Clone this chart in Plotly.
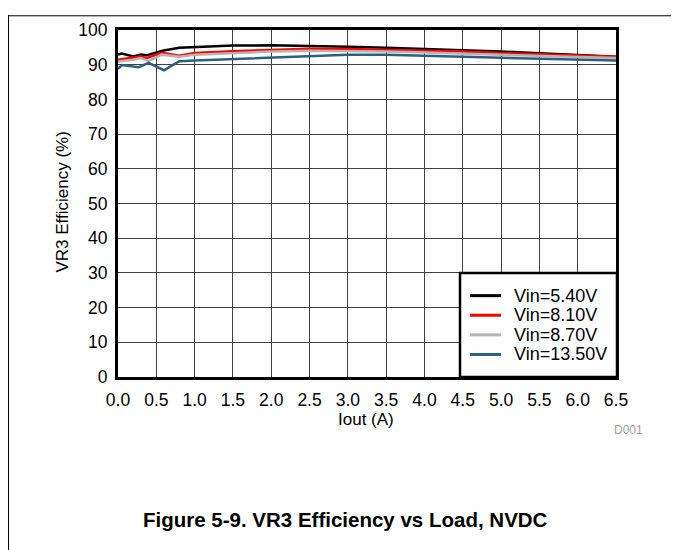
import plotly.graph_objects as go

# Data
x_540 = [0, 0.05, 0.2, 0.3, 0.37, 0.58, 0.8, 1.0, 1.5, 2.0, 2.5, 3.0, 3.5, 4.0, 4.5, 5.0, 5.5, 6.0, 6.5]
y_540 = [92.9, 93.2, 92.4, 92.9, 92.7, 94.0, 94.9, 95.1, 95.5, 95.6, 95.5, 95.2, 94.9, 94.6, 94.2, 93.8, 93.3, 92.8, 92.3]

x_810 = [0, 0.2, 0.3, 0.37, 0.57, 0.8, 1.0, 1.5, 2.0, 2.5, 3.0, 3.5, 4.0, 4.5, 5.0, 5.5, 6.0, 6.5]
y_810 = [91.4, 92.1, 92.4, 91.9, 93.4, 92.6, 93.4, 93.9, 94.3, 94.6, 94.5, 94.3, 94.1, 93.8, 93.4, 93.1, 92.7, 92.3]

x_870 = [0, 0.2, 0.3, 0.4, 0.57, 0.8, 1.0, 1.5, 2.0, 2.5, 3.0, 3.5, 4.0, 4.5, 5.0, 5.5, 6.0, 6.5]
y_870 = [90.9, 91.4, 91.9, 91.0, 92.9, 92.3, 92.9, 93.4, 93.8, 94.0, 94.0, 93.8, 93.5, 93.2, 92.9, 92.6, 92.2, 91.9]

x_1350 = [0, 0.05, 0.27, 0.4, 0.6, 0.8, 1.0, 1.5, 2.0, 2.5, 3.0, 3.5, 4.0, 4.5, 5.0, 5.5, 6.0, 6.5]
y_1350 = [88.8, 89.9, 89.3, 90.5, 88.4, 91.0, 91.2, 91.6, 92.1, 92.6, 92.9, 92.9, 92.7, 92.3, 92.0, 91.7, 91.4, 91.2]

series_names = ["Vin=5.40V", "Vin=8.10V", "Vin=8.70V", "Vin=13.50V"]
series_colors = ["#000000", "#FF0000", "#B4B4B4", "#2B6080"]

x_ticks = [0.0, 0.5, 1.0, 1.5, 2.0, 2.5, 3.0, 3.5, 4.0, 4.5, 5.0, 5.5, 6.0, 6.5]
y_ticks = [0, 10, 20, 30, 40, 50, 60, 70, 80, 90, 100]

FONT = "Liberation Sans, Arial, sans-serif"

fig = go.Figure()
for xs, ys, name, color in zip([x_540, x_810, x_870, x_1350],
                               [y_540, y_810, y_870, y_1350],
                               series_names, series_colors):
    fig.add_trace(go.Scatter(x=xs, y=ys, mode="lines", name=name,
                             line=dict(color=color, width=2.5)))

# plot area in figure coordinates (page has an 8px body margin)
L, R, T, B = 110, 608, 15, 369
W, H = 679, 550
pw, ph = R - L, B - T

def px(xp):
    return (xp - L) / pw

def py(yp):
    return (B - yp) / ph

annotations = [
    dict(text="VR3 Efficiency (%)", xref="paper", yref="paper",
         x=px(55), y=py(191), textangle=-90, showarrow=False,
         font=dict(size=17), xanchor="center", yanchor="middle"),
    dict(text="Iout (A)", xref="paper", yref="paper",
         x=px(358), y=py(412), showarrow=False,
         font=dict(size=17), xanchor="center", yanchor="middle"),
    dict(text="D001", xref="paper", yref="paper",
         x=px(620), y=py(423), showarrow=False,
         font=dict(size=12, color="#A0A0A0"), xanchor="center", yanchor="middle"),
    dict(text="<b>Figure 5-9. VR3 Efficiency vs Load, NVDC</b>", xref="paper", yref="paper",
         x=px(337), y=py(514), showarrow=False,
         font=dict(size=20.5, color="black"), xanchor="center", yanchor="middle"),
]

shapes = [
    dict(type="line", xref="paper", yref="paper",
         x0=px(0.5), x1=px(0.5), y0=py(0), y1=py(550),
         line=dict(color="black", width=1)),
    dict(type="line", xref="paper", yref="paper",
         x0=px(0), x1=px(679), y0=py(0.5), y1=py(0.5),
         line=dict(color="black", width=1)),
    # legend box
    dict(type="rect", xref="paper", yref="paper", layer="above",
         x0=px(452), x1=px(609), y0=py(263), y1=py(369),
         fillcolor="white", line=dict(color="black", width=2.5)),
]

# legend entries
row_y = [286, 306, 326, 346]
for name, color, ry in zip(series_names, series_colors, row_y):
    shapes.append(dict(type="line", xref="paper", yref="paper", layer="above",
                       x0=px(462), x1=px(493), y0=py(ry), y1=py(ry),
                       line=dict(color=color, width=3)))
    annotations.append(dict(text=name, xref="paper", yref="paper",
                            x=px(504), y=py(ry), showarrow=False,
                            xanchor="left", yanchor="middle",
                            font=dict(size=18, color="black")))

fig.update_layout(
    width=W, height=H,
    margin=dict(l=L, r=W - R, t=T, b=H - B),
    paper_bgcolor="white", plot_bgcolor="white",
    font=dict(family=FONT, size=17, color="black"),
    showlegend=False,
    xaxis=dict(range=[0, 6.5], tickvals=x_ticks, tickformat=".1f",
               showgrid=True, gridcolor="#404040", gridwidth=1,
               showline=True, linecolor="black", linewidth=3, mirror=True,
               ticks="", zeroline=False, tickfont=dict(size=17.5), ticklabelstandoff=5),
    yaxis=dict(range=[0, 100], tickvals=y_ticks,
               showgrid=True, gridcolor="#404040", gridwidth=1,
               showline=True, linecolor="black", linewidth=3, mirror=True,
               ticks="", zeroline=False, tickfont=dict(size=17.5), ticklabelstandoff=4),
    annotations=annotations,
    shapes=shapes,
)

fig.write_html("out.html")
